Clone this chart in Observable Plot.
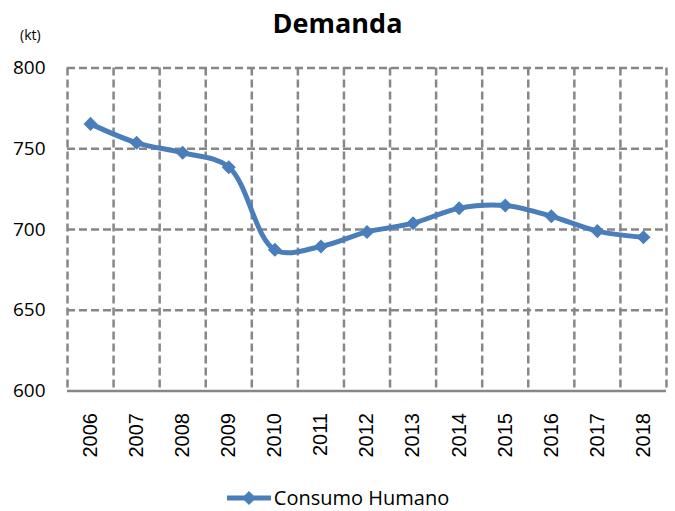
<!DOCTYPE html>
<html>
<head>
<meta charset="utf-8">
<script src="https://cdn.jsdelivr.net/npm/d3@7"></script>
<script src="https://cdn.jsdelivr.net/npm/@observablehq/plot@0.6"></script>
<style>
  html, body { margin: 0; padding: 0; background: #fff; }
  #wrap { position: relative; width: 675px; height: 511px; overflow: hidden; font-family: "Open Sans", sans-serif; color: #000; }
  #title { position: absolute; left: 0; width: 675px; top: 3px; text-align: center; font-weight: bold; font-size: 27px; line-height: 40px; }
  #unit { position: absolute; left: 20px; top: 25px; font-size: 14px; line-height: 20px; }
  #legend { position: absolute; left: 0; width: 675px; top: 486px; display: flex; justify-content: center; align-items: center; font-size: 20px; line-height: 24px; height: 24px; }
  #legend svg { margin-right: 2px; }
  #chart { position: absolute; left: 0; top: 0; }
</style>
</head>
<body>
<div id="wrap">
  <div id="chart"></div>
  <div id="title">Demanda</div>
  <div id="unit">(kt)</div>
  <div id="legend"></div>
</div>
<script>
const years = [2006, 2007, 2008, 2009, 2010, 2011, 2012, 2013, 2014, 2015, 2016, 2017, 2018];
const consumoHumano = [765.4, 753.7, 747.5, 738.6, 687.4, 689.5, 698.5, 703.9, 713.2, 714.9, 708.2, 699.0, 695.2];
const yTicks = [600, 650, 700, 750, 800];
const seriesName = "Consumo Humano";

const blue = "#4a7ebb";
const gridColor = "#878787";

const data = years.map((y, i) => ({year: y, value: consumoHumano[i]}));
const boundaries = years.map(y => y - 0.5).concat([years[years.length - 1] + 0.5]);

const chart = Plot.plot({
  width: 675,
  height: 511,
  marginTop: 67.5,
  marginBottom: 120.5,
  marginLeft: 67,
  marginRight: 9,
  style: {fontFamily: "'Open Sans', sans-serif", background: "#fff", color: "#000"},
  x: {domain: [years[0] - 0.5, years[years.length - 1] + 0.5]},
  y: {domain: [600, 800]},
  marks: [
    Plot.ruleY(yTicks.slice(1), {stroke: gridColor, strokeWidth: 2.5, strokeDasharray: "8,4"}),
    Plot.ruleX(boundaries, {stroke: gridColor, strokeWidth: 2.5, strokeDasharray: "8,4"}),
    Plot.ruleY([yTicks[0]], {stroke: gridColor, strokeWidth: 2.5}),
    Plot.axisY(yTicks, {tickSize: 0, tickPadding: 22, fontSize: 19, label: null, fontFamily: "'Open Sans', sans-serif"}),
    Plot.axisX(years, {tickSize: 0, tickPadding: 22, tickRotate: -90, fontSize: 20, label: null, tickFormat: d => String(d), fontFamily: "'Liberation Sans', Arial, sans-serif"}),
    Plot.line(data, {x: "year", y: "value", curve: "catmull-rom", stroke: blue, strokeWidth: 5}),
    Plot.dot(data, {x: "year", y: "value", symbol: "square", rotate: 45, r: 5.6, fill: blue, stroke: "none"})
  ]
});
document.getElementById("chart").appendChild(chart);

// legend
const leg = document.getElementById("legend");
const ns = "http://www.w3.org/2000/svg";
const ls = document.createElementNS(ns, "svg");
ls.setAttribute("width", 46); ls.setAttribute("height", 20);
const ln = document.createElementNS(ns, "line");
ln.setAttribute("x1", 1); ln.setAttribute("x2", 45); ln.setAttribute("y1", 10); ln.setAttribute("y2", 10);
ln.setAttribute("stroke", blue); ln.setAttribute("stroke-width", 5);
ls.appendChild(ln);
const dm = document.createElementNS(ns, "path");
dm.setAttribute("d", "M23,3 L30,10 L23,17 L16,10 Z");
dm.setAttribute("fill", blue);
ls.appendChild(dm);
leg.appendChild(ls);
const lt = document.createElement("span");
lt.textContent = seriesName;
leg.appendChild(lt);
</script>
</body>
</html>
